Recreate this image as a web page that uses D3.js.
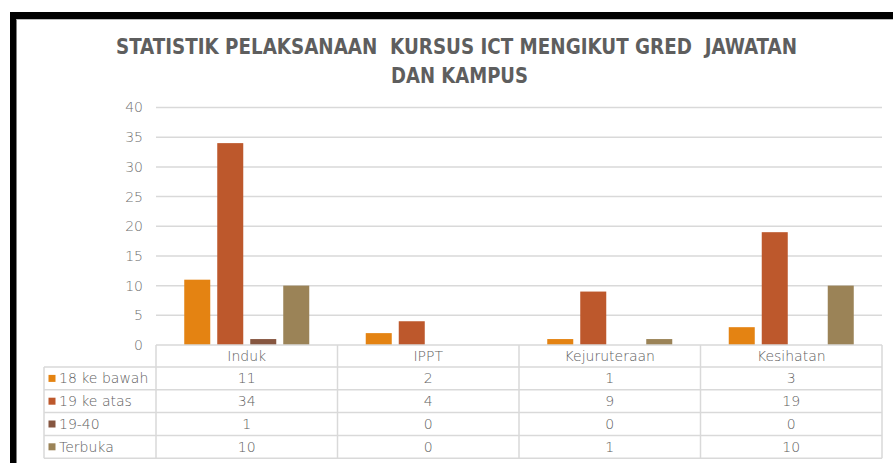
<!DOCTYPE html>
<html>
<head>
<meta charset="utf-8">
<script src="https://cdn.jsdelivr.net/npm/d3@7"></script>
<style>
  html, body { margin: 0; padding: 0; background: #fff; }
  svg { display: block; }
</style>
</head>
<body>
<script>
// chart data
const categories = ["Induk", "IPPT", "Kejuruteraan", "Kesihatan"];
const seriesNames = ["18 ke bawah", "19 ke atas", "19-40", "Terbuka"];
const bawah18 = [11, 2, 1, 3];
const atas19 = [34, 4, 9, 19];
const gred1940 = [1, 0, 0, 0];
const terbuka = [10, 0, 1, 10];
const yTicks = [0, 5, 10, 15, 20, 25, 30, 35, 40];
const titleLines = ["STATISTIK PELAKSANAAN  KURSUS ICT MENGIKUT GRED  JAWATAN", "DAN KAMPUS"];

const colors = ["#E48312", "#BD582C", "#865640", "#9B8357"];
const series = [bawah18, atas19, gred1940, terbuka];

const W = 893, H = 463;
const m = {left: 156, right: 11, top: 107.5, bottom: 118};

const svg = d3.select('body').append('svg')
  .attr('width', W)
  .attr('height', H);

// black frame (top + left edges of screenshot)
svg.append('rect').attr('x', 10).attr('y', 12).attr('width', W - 10).attr('height', 7).attr('fill', '#000');
svg.append('rect').attr('x', 10).attr('y', 12).attr('width', 6.5).attr('height', H - 12).attr('fill', '#000');
svg.append('line').attr('x1', 16.5).attr('x2', W).attr('y1', 19.5).attr('y2', 19.5)
  .attr('stroke', '#bbb').attr('stroke-width', 1);

// title
svg.append('g').selectAll('text')
  .data(titleLines)
  .enter().append('text')
  .attr('x', (d, i) => i == 0 ? 116 : 391)
  .attr('y', (d, i) => 54 + i * 29)
  .attr('textLength', (d, i) => i == 0 ? 681 : 137)
  .attr('lengthAdjust', 'spacingAndGlyphs')
  .style('white-space', 'pre')
  .style('font-family', '"DejaVu Sans Condensed", "DejaVu Sans"')
  .style('font-weight', 'bold')
  .style('font-size', '21px')
  .style('fill', '#5e5e5e')
  .text(d => d);

const x0 = d3.scaleBand()
  .domain(categories)
  .range([m.left, W - m.right])
  .padding(0);

const x1 = d3.scaleBand()
  .domain(seriesNames)
  .range([0, x0.bandwidth()])
  .paddingInner(0.212)
  .paddingOuter(0.856);

const y = d3.scaleLinear()
  .domain([0, 40])
  .range([H - m.bottom, m.top]);

// gridlines
svg.append('g').selectAll('line')
  .data(yTicks.slice(1))
  .enter().append('line')
  .attr('x1', m.left).attr('x2', W - m.right)
  .attr('y1', d => y(d)).attr('y2', d => y(d))
  .attr('stroke', '#d9d9d9')
  .attr('stroke-width', 1.5);

const txt = sel => sel
  .style('font-family', '"DejaVu Sans", Lato, sans-serif')
  .style('font-weight', 200)
  .style('font-size', '14px')
  .style('fill', '#606060');

// y axis labels
const yAxis = svg.append('g')
  .attr('transform', 'translate(' + (m.left - 13) + ',0)')
  .call(d3.axisLeft(y).tickValues(yTicks).tickSize(0).tickPadding(0));
yAxis.select('.domain').remove();
yAxis.selectAll('text')
  .call(txt)
  .style('font-size', '14px')
  .style('fill', '#707070');

// bars
const groups = svg.append('g').selectAll('g')
  .data(categories)
  .enter().append('g')
  .attr('transform', d => 'translate(' + x0(d) + ',0)');

groups.selectAll('rect')
  .data((c, ci) => seriesNames.map((s, si) => ({s: s, si: si, v: series[si][ci]})))
  .enter().append('rect')
  .attr('x', d => x1(d.s))
  .attr('width', x1.bandwidth())
  .attr('y', d => y(d.v))
  .attr('height', d => y(0) - y(d.v))
  .attr('fill', d => colors[d.si]);

// data table
const tableTop = y(0);
const headH = 22;
const rowH = 22.8;
const tableLeft = 44;
const lineColor = '#d9d9d9';
const table = svg.append('g');
const tableBottom = tableTop + headH + rowH * seriesNames.length;

// horizontal lines
table.append('line')
  .attr('x1', m.left).attr('x2', W - m.right)
  .attr('y1', tableTop).attr('y2', tableTop)
  .attr('stroke', lineColor).attr('stroke-width', 1.5);
table.selectAll('.hrow')
  .data(d3.range(seriesNames.length + 1))
  .enter().append('line')
  .attr('class', 'hrow')
  .attr('x1', tableLeft).attr('x2', W - m.right)
  .attr('y1', i => tableTop + headH + i * rowH)
  .attr('y2', i => tableTop + headH + i * rowH)
  .attr('stroke', lineColor).attr('stroke-width', 1.5);

// vertical lines
table.append('line')
  .attr('x1', tableLeft).attr('x2', tableLeft)
  .attr('y1', tableTop + headH).attr('y2', tableBottom)
  .attr('stroke', lineColor).attr('stroke-width', 1.5);
table.selectAll('.vcol')
  .data(categories.concat(['end']))
  .enter().append('line')
  .attr('class', 'vcol')
  .attr('x1', d => d == 'end' ? W - m.right : x0(d))
  .attr('x2', d => d == 'end' ? W - m.right : x0(d))
  .attr('y1', tableTop).attr('y2', tableBottom)
  .attr('stroke', lineColor).attr('stroke-width', 1.5);

// category headers
table.selectAll('.head')
  .data(categories)
  .enter().append('text')
  .attr('class', 'head')
  .attr('x', d => x0(d) + x0.bandwidth() / 2)
  .attr('y', tableTop + headH / 2 + 5)
  .attr('text-anchor', 'middle')
  .call(txt)
  .text(d => d);

// row labels with legend keys
const rows = table.selectAll('.row')
  .data(seriesNames)
  .enter().append('g')
  .attr('class', 'row')
  .attr('transform', (d, i) => 'translate(0,' + (tableTop + headH + i * rowH + rowH / 2) + ')');

rows.append('rect')
  .attr('x', 48.5).attr('y', -3.5)
  .attr('width', 7).attr('height', 7)
  .attr('fill', (d, i) => colors[i]);

rows.append('text')
  .attr('x', 59).attr('y', 5)
  .call(txt)
  .text(d => d);

rows.selectAll('.val')
  .data((s, si) => categories.map((c, ci) => ({c: c, v: series[si][ci]})))
  .enter().append('text')
  .attr('class', 'val')
  .attr('x', d => x0(d.c) + x0.bandwidth() / 2)
  .attr('y', 5)
  .attr('text-anchor', 'middle')
  .call(txt)
  .text(d => d.v);
</script>
</body>
</html>
